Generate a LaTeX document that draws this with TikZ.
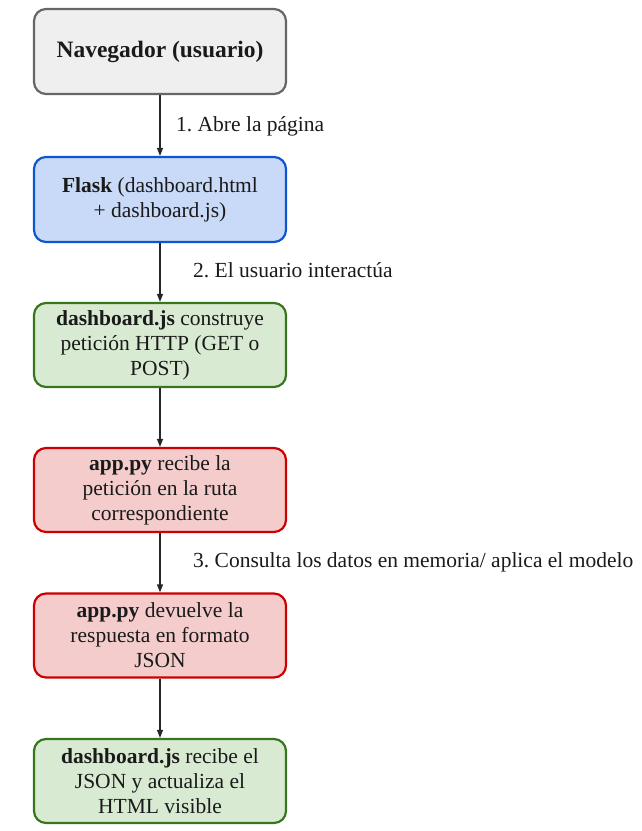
\documentclass[tikz,border=0pt]{standalone}
\usepackage{fontspec}
\setmainfont{Liberation Serif}
\usetikzlibrary{arrows.meta}
\definecolor{grayfill}{HTML}{EFEFEF}
\definecolor{grayline}{HTML}{666666}
\definecolor{bluefill}{HTML}{C9DAF8}
\definecolor{blueline}{HTML}{1155CC}
\definecolor{greenfill}{HTML}{D9EAD3}
\definecolor{greenline}{HTML}{38761D}
\definecolor{redfill}{HTML}{F4CCCC}
\definecolor{redline}{HTML}{CC0000}
\definecolor{ink}{HTML}{1A1A1A}
\tikzset{
  box/.style={draw, line width=2.2pt, rounded corners=12pt, minimum width=252pt,
    align=center, text=ink, font=\fontsize{21.5}{25}\selectfont, inner sep=0pt},
  graybox/.style={box, fill=grayfill, draw=grayline, minimum height=85pt},
  bluebox/.style={box, fill=bluefill, draw=blueline, minimum height=85pt},
  greenbox/.style={box, fill=greenfill, draw=greenline, minimum height=84pt},
  redbox/.style={box, fill=redfill, draw=redline, minimum height=84pt},
  flow/.style={draw=black!85, line width=1.2pt, -{Triangle[length=8pt,width=6pt]}},
  steplabel/.style={anchor=west, text=ink, font=\fontsize{21.5}{22}\selectfont, inner sep=0pt}
}
\begin{document}
\frenchspacing
\begin{tikzpicture}[x=1pt,y=-1pt]
\useasboundingbox (0,0) rectangle (642,831);
\node[graybox, font=\fontsize{23.5}{25}\bfseries] (nav) at (160,51.5) {Navegador (usuario)};
\node[bluebox] (flask) at (160,199.5) {\textbf{Flask} (dashboard.html\\+ dashboard.js)};
\node[greenbox] (build) at (160,345) {\textbf{dashboard.js} construye\\petición HTTP (GET o\\POST)};
\node[redbox] (recv) at (160,490) {\textbf{app.py} recibe la\\petición en la ruta\\correspondiente};
\node[redbox] (resp) at (160,635.5) {\textbf{app.py} devuelve la\\respuesta en formato\\JSON};
\node[greenbox] (upd) at (160,781) {\textbf{dashboard.js} recibe el\\JSON y actualiza el\\HTML visible};
\draw[flow] (nav) -- (flask);
\draw[flow] (flask) -- (build);
\draw[flow] (build) -- (recv);
\draw[flow] (recv) -- (resp);
\draw[flow] (resp) -- (upd);
\node[steplabel] (l1) at (176,126) {1. Abre la página};
\node[steplabel] (l2) at (193,270) {2. El usuario interactúa};
\node[steplabel] (l3) at (193,562) {3. Consulta los datos en memoria/ aplica el modelo};
\end{tikzpicture}
\end{document}
